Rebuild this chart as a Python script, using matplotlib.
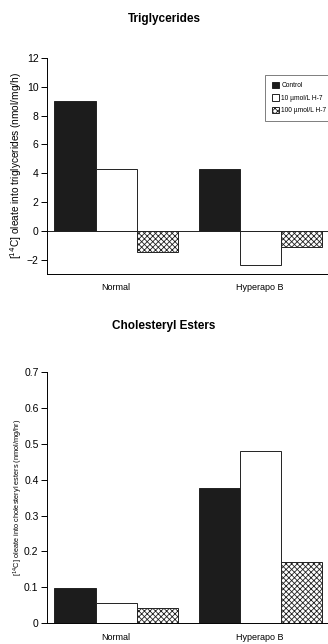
import numpy as np
import matplotlib
matplotlib.use("Agg")
import matplotlib.pyplot as plt

plt.rcParams["font.family"] = ["Liberation Sans", "DejaVu Sans"]
plt.rcParams["hatch.linewidth"] = 0.6

groups = ["Normal", "Hyperapo B"]
series = ["Control", "10 \u00b5mol/L H-7", "100 \u00b5mol/L H-7"]

tg_values = [[9.0, 4.3],      # control
             [4.3, -2.35],    # 10 umol/L
             [-1.45, -1.1]]   # 100 umol/L
ce_values = [[0.098, 0.377],
             [0.056, 0.48],
             [0.043, 0.17]]

tg_ticks = [-2, 0, 2, 4, 6, 8, 10, 12]
ce_ticks = [0, 0.1, 0.2, 0.3, 0.4, 0.5, 0.6, 0.7]
ce_ticklabels = ["0", "0.1", "0.2", "0.3", "0.4", "0.5", "0.6", "0.7"]

faces = ["#1c1c1c", "white", "white"]
hatches = [None, None, "xxxxxx"]
width = 0.285
x = np.arange(len(groups))


def draw_bars(ax, values):
    for i, vals in enumerate(values):
        ax.bar(x + (i - 1) * width, vals, width, color=faces[i],
               edgecolor="#222222", linewidth=0.7, hatch=hatches[i],
               label=series[i])
    ax.set_xlim(-0.48, 1.47)
    ax.set_xticks([])
    for s in ("top", "right"):
        ax.spines[s].set_visible(False)
    ax.spines["left"].set_linewidth(0.7)
    ax.spines["bottom"].set_linewidth(0.7)
    ax.tick_params(axis="y", labelsize=7.5, width=0.7, length=4, pad=2)
    for xi, g in zip(x, groups):
        ax.text(xi, -0.04, g, transform=ax.get_xaxis_transform(),
                ha="center", va="top", fontsize=6.5)


fig = plt.figure(figsize=(3.28, 6.44), dpi=100)

ax1 = fig.add_axes([0.143, 0.5745, 0.857, 0.3355])
draw_bars(ax1, tg_values)
ax1.set_ylim(-3, 12)
ax1.set_yticks(tg_ticks)
ax1.axhline(0, color="#222222", linewidth=0.7)
ax1.set_ylabel("[$^{14}$C] oleate into triglycerides (nmol/mg/h)",
               fontsize=7.3, labelpad=2)
fig.text(0.5, 0.97, "Triglycerides", ha="center", va="center",
         fontsize=8.5, fontweight="semibold")
leg = ax1.legend(loc="upper right", bbox_to_anchor=(1.03, 0.935),
                 fontsize=4.8, frameon=True, fancybox=False,
                 handlelength=1.1, handleheight=1.1, handletextpad=0.3,
                 borderpad=1.0, labelspacing=0.75)
leg.get_frame().set_edgecolor("#444444")
leg.get_frame().set_linewidth(0.6)

ax2 = fig.add_axes([0.143, 0.0326, 0.857, 0.3894])
draw_bars(ax2, ce_values)
ax2.set_ylim(0, 0.7)
ax2.set_yticks(ce_ticks)
ax2.set_yticklabels(ce_ticklabels)
ax2.set_ylabel("[$^{14}$C] oleate into cholesteryl esters (nmol/mg/hr)",
               fontsize=5.3, labelpad=-1)
fig.text(0.5, 0.494, "Cholesteryl Esters", ha="center", va="center",
         fontsize=8.5, fontweight="semibold")

fig.savefig("out.png", dpi=100)
